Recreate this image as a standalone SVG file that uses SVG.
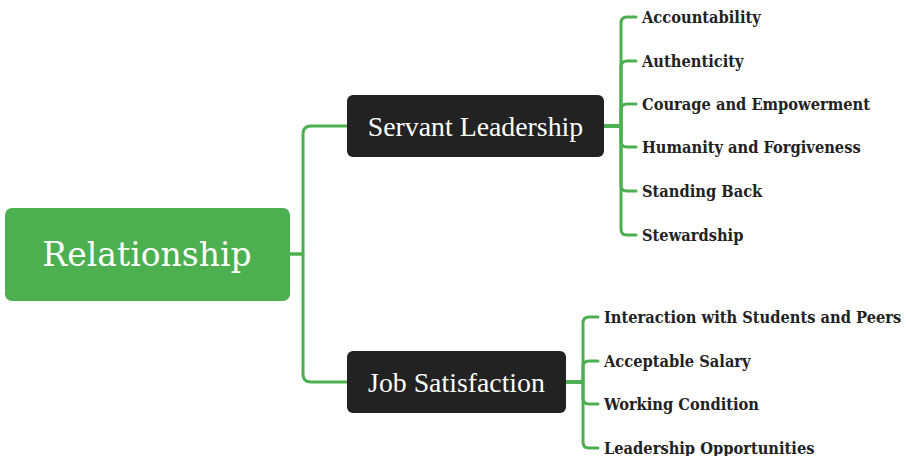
<svg xmlns="http://www.w3.org/2000/svg" width="906" height="456" viewBox="0 0 906 456">
  <style>
    .link { fill: none; stroke: #4CAF50; stroke-width: 3; stroke-linecap: round; stroke-linejoin: round; }
    .root-box { fill: #4CAF50; }
    .root-text { font-family: "DejaVu Serif", serif; font-size: 33px; fill: #ffffff; text-anchor: middle; }
    .main-box { fill: #222222; }
    .main-text { font-family: "Liberation Serif", serif; font-size: 27.8px; fill: #ffffff; text-anchor: middle; }
    .leaf-text { font-family: "DejaVu Serif Condensed", "DejaVu Serif", serif; font-stretch: condensed; font-weight: bold; font-size: 16.3px; fill: #222222; }
  </style>
  <rect width="906" height="456" fill="#ffffff"/>

  <g id="connectors">
    <!-- root to main topics -->
    <path class="link" d="M290,254 H303 V134 Q303,126 311,126 H347"/>
    <path class="link" d="M290,254 H303 V374 Q303,382 311,382 H347"/>
    <!-- Servant Leadership to its children -->
    <path class="link" d="M604,126 H621 V23 Q621,17 627,17 H636"/>
    <path class="link" d="M604,126 H621 V67 Q621,61 627,61 H636"/>
    <path class="link" d="M604,126 H621 V110 Q621,104 627,104 H636"/>
    <path class="link" d="M604,126 H621 V141 Q621,147 627,147 H636"/>
    <path class="link" d="M604,126 H621 V185 Q621,191 627,191 H636"/>
    <path class="link" d="M604,126 H621 V229 Q621,235 627,235 H636"/>
    <!-- Job Satisfaction to its children -->
    <path class="link" d="M566,382 H583 V323 Q583,317 589,317 H598"/>
    <path class="link" d="M566,382 H583 V367 Q583,361 589,361 H598"/>
    <path class="link" d="M566,382 H583 V398 Q583,404 589,404 H598"/>
    <path class="link" d="M566,382 H583 V442 Q583,448 589,448 H598"/>
  </g>

  <g id="relationship">
    <rect class="root-box" x="5" y="208" width="285" height="93" rx="7"/>
    <text class="root-text" x="147" y="266">Relationship</text>
  </g>

  <g id="servant-leadership">
    <rect class="main-box" x="347" y="95" width="257" height="62" rx="6"/>
    <text class="main-text" x="475.5" y="135.5">Servant Leadership</text>
  </g>

  <g id="job-satisfaction">
    <rect class="main-box" x="347" y="351" width="219" height="62" rx="6"/>
    <text class="main-text" x="456.5" y="391.5">Job Satisfaction</text>
  </g>

  <g id="accountability"><text class="leaf-text" x="642" y="22.5">Accountability</text></g>
  <g id="authenticity"><text class="leaf-text" x="642" y="66.5">Authenticity</text></g>
  <g id="courage-empowerment"><text class="leaf-text" x="642" y="109.5">Courage and Empowerment</text></g>
  <g id="humanity-forgiveness"><text class="leaf-text" x="642" y="152.5">Humanity and Forgiveness</text></g>
  <g id="standing-back"><text class="leaf-text" x="642" y="196.5">Standing Back</text></g>
  <g id="stewardship"><text class="leaf-text" x="642" y="240.5">Stewardship</text></g>

  <g id="interaction"><text class="leaf-text" x="604" y="322.5">Interaction with Students and Peers</text></g>
  <g id="acceptable-salary"><text class="leaf-text" x="604" y="366.5">Acceptable Salary</text></g>
  <g id="working-condition"><text class="leaf-text" x="604" y="409.5">Working Condition</text></g>
  <g id="leadership-opportunities"><text class="leaf-text" x="604" y="453.5">Leadership Opportunities</text></g>
</svg>
